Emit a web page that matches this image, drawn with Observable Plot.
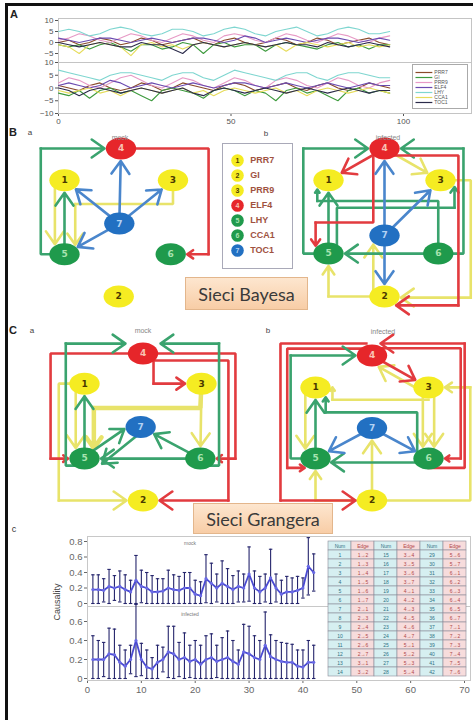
<!DOCTYPE html>
<html>
<head>
<meta charset="utf-8">
<script src="https://cdn.jsdelivr.net/npm/d3@7"></script>
<script src="https://cdn.jsdelivr.net/npm/@observablehq/plot@0.6"></script>
<style>
  body { margin: 0; background: #fff; }
  #fig { position: relative; width: 473px; height: 720px; overflow: hidden; background: #fff;
         font-family: "Liberation Sans", Arial, sans-serif; }
  #fig svg { position: absolute; left: 0; top: 0; background: transparent; }
  .tag { position: absolute; transform: translate(-50%, -50%); white-space: nowrap; line-height: 1; }
  .boxlabel { position: absolute; display: flex; align-items: center; justify-content: center;
              background: linear-gradient(#fde6cf, #f8cda6); border: 1px solid #e3b68c;
              font-family: Lato, "Open Sans", sans-serif; font-size: 18px; color: #3a3a3a; box-sizing: border-box; }
</style>
</head>
<body>
<div id="fig"></div>
<script>
// ---------- genes ----------
const geneNames = ["PRR7", "GI", "PRR9", "ELF4", "LHY", "CCA1", "TOC1"];
const geneKinds = ["y", "y", "y", "r", "g", "g", "b"];
const geneColors = ["#8a4a2a", "#3d9a3d", "#e79ac6", "#6b4bb0", "#7fd6d0", "#e6dc5a", "#2b2b4a"];

// ---------- panel A: expression time series ----------
const T = [0,3,6,9,12,15,18,21,24,27,30,33,36,39,42,45,48,51,54,57,60,63,66,69,72,75,78,81,84,87,90,93,96];
const mockPRR7 = [0,1,-1,0,2,1,-1,0,2,1,-1,0,1,2,0,-1,1,2,0,-1,0,2,1,-1,0,2,1,-1,0,1,2,0,-1];
const mockGI   = [-1,-2,-1,-3,-1,0,-2,-4,-1,-1,-3,-2,0,-1,-5,-1,0,-2,-1,-1,-4,-1,0,-1,-2,-3,-1,0,-2,-1,-3,-1,-1];
const mockPRR9 = [1,2,4,3,1,0,2,4,3,1,0,2,4,3,1,0,3,4,3,1,0,2,4,3,1,0,2,4,3,1,0,2,3];
const mockELF4 = [2,1,0,1,2,2,1,0,1,2,1,0,1,2,2,1,0,1,3,2,0,1,2,1,0,1,2,2,1,0,1,2,1];
const mockLHY  = [5,6,5,3,4,6,7,6,4,3,4,6,6,5,3,4,6,7,6,4,3,5,6,7,5,3,4,6,7,6,4,4,5];
const mockCCA1 = [-1,-2,-5,-1,0,-1,-2,-6,-1,0,-2,-1,-3,-1,0,-1,-2,-1,0,-1,-2,-1,-4,-1,0,-1,-2,-1,0,-2,-1,-2,-1];
const mockTOC1 = [0,-1,-2,-1,0,-1,-2,-2,0,-1,-1,-3,-5,-1,0,-1,-2,-1,0,-1,-2,-1,0,-1,-1,-2,0,-1,-2,-1,0,-1,-2];

const infPRR7 = [1,0,-1,1,2,0,-1,0,2,1,-1,0,2,1,0,-1,1,2,1,-1,0,1,2,0,-1,1,2,0,-1,0,2,1,0];
const infGI   = [-2,-3,-1,-4,-1,0,-2,-1,-3,-5,-1,0,-1,-2,-4,-1,0,-1,-3,-1,-2,-5,-1,0,-2,-1,-3,-5,-1,0,-2,-1,-2];
const infPRR9 = [2,4,3,1,0,2,4,5,3,1,0,2,4,3,1,0,2,4,3,1,0,3,4,3,1,0,2,4,3,1,0,2,3];
const infELF4 = [1,2,1,0,1,3,2,0,1,2,1,0,1,2,1,0,1,2,2,1,0,1,2,1,0,1,2,1,0,1,2,1,1];
const infLHY  = [7,6,5,4,3,5,6,6,5,4,3,5,6,6,4,3,5,7,6,5,4,3,5,6,6,4,3,5,6,6,5,4,4];
const infCCA1 = [-1,-2,-1,0,-2,-1,-3,-1,0,-1,-2,-1,0,-2,-1,-3,-1,0,-1,-2,-1,0,-2,-1,-3,-1,0,-1,-2,-1,0,-1,-2];
const infTOC1 = [0,-1,-3,-1,0,-1,-2,-1,0,-1,-2,-1,0,-2,-3,-1,0,-1,-2,-1,0,-1,-2,-1,0,-1,-2,-1,0,-1,-2,-1,-1];

const ticksA = [0, 50, 100];

// ---------- panel c: causality per edge ----------
const mockMean = [0.18,0.18,0.17,0.22,0.2,0.22,0.18,0.15,0.3,0.22,0.2,0.15,0.15,0.16,0.2,0.18,0.17,0.2,0.2,0.12,0.1,0.32,0.26,0.2,0.26,0.22,0.18,0.22,0.2,0.38,0.2,0.15,0.2,0.33,0.2,0.12,0.15,0.15,0.17,0.2,0.48,0.4];
const mockErr  = [0.19,0.19,0.15,0.22,0.16,0.2,0.19,0.15,0.32,0.21,0.2,0.21,0.17,0.16,0.23,0.19,0.18,0.2,0.2,0.18,0.18,0.31,0.26,0.18,0.29,0.23,0.18,0.2,0.18,0.35,0.22,0.2,0.18,0.37,0.18,0.18,0.2,0.18,0.18,0.13,0.37,0.24];
const infMean  = [0.2,0.2,0.2,0.26,0.25,0.17,0.13,0.2,0.4,0.2,0.12,0.1,0.17,0.2,0.28,0.26,0.2,0.22,0.18,0.2,0.15,0.2,0.22,0.18,0.2,0.22,0.18,0.15,0.28,0.26,0.22,0.2,0.35,0.23,0.2,0.18,0.17,0.17,0.13,0.12,0.17,0.17];
const infErr   = [0.25,0.2,0.18,0.27,0.27,0.18,0.17,0.15,0.38,0.17,0.18,0.12,0.18,0.13,0.27,0.29,0.18,0.26,0.17,0.2,0.2,0.25,0.25,0.17,0.23,0.28,0.22,0.15,0.29,0.29,0.23,0.2,0.35,0.23,0.2,0.2,0.2,0.19,0.17,0.18,0.23,0.18];
const ticksCx = [0, 10, 20, 30, 40, 50, 60, 70];

// edge numbering table
const tableHeads = ["Num", "Edge", "Num", "Edge", "Num", "Edge"];
const edgeList = ["1→2","1→3","1→4","1→5","1→6","1→7","2→1","2→3","2→4","2→5","2→6","2→7","3→1","3→2",
                  "3→4","3→5","3→6","3→7","4→1","4→2","4→3","4→5","4→6","4→7","5→1","5→2","5→3","5→4",
                  "5→6","5→7","6→1","6→2","6→3","6→4","6→5","6→7","7→1","7→2","7→3","7→4","7→5","7→6"];

// ---------- networks (node positions in grid units: column, row) ----------
const bMockNodes = [[0,0.86],[0.96,4],[1.92,0.86],[1,0],[0,2.86],[1.88,2.86],[0.97,2.03]];
const bMockEdges = [
  {c:"y", to:5, pts:[[-0.17,0.86],[-0.17,2.86]]},
  {c:"y", to:5, pts:[3,[1.92,1.5],[0.19,1.5],[0.19,2.86]]},
  {c:"g", to:4, pts:[5,[-0.42,2.86],[-0.42,0],4]},
  {c:"r", to:6, pts:[4,[2.55,0],[2.55,2.86],6]},
  {c:"g", to:1, pts:[5,1]},
  {c:"b", to:4, pts:[7,4]},
  {c:"b", to:1, pts:[7,1]},
  {c:"b", to:3, pts:[7,3]},
  {c:"b", to:5, pts:[7,5]}
];
const bInfNodes = [[0,0.86],[1,4],[2,0.86],[1,0],[0,2.84],[1.96,2.84],[1,2.35]];
const bInfEdges = [
  {c:"y", to:3, pts:[4,3]},
  {c:"y", to:2, pts:[3,[2.54,0.86],[2.54,4.03],[1,4.03]]},
  {c:"y", to:5, pts:[2,[0,4],5]},
  {c:"y", to:7, pts:[[0.8,4],[0.8,2.35]]},
  {c:"g", to:4, pts:[5,[-0.45,2.84],[-0.45,0],4]},
  {c:"g", to:4, pts:[6,[2.41,2.84],[2.41,0],4]},
  {c:"g", to:1, pts:[[1.96,2.84],[1.96,1.42],[-0.2,1.42],[-0.2,0.86]]},
  {c:"g", to:3, pts:[[0.15,2.84],[0.15,1.6],[2.25,1.6],[2.25,0.86]]},
  {c:"g", to:1, pts:[5,1]},
  {c:"g", to:5, pts:[6,5]},
  {c:"r", to:1, pts:[4,1]},
  {c:"r", to:5, pts:[[0.8,0],[0.8,2.0],[-0.23,2.0],[-0.23,2.84]]},
  {c:"r", to:2, pts:[[1,0.19],[2.32,0.19],[2.32,4.24],[1,4.24]]},
  {c:"b", to:4, pts:[7,4]},
  {c:"b", to:3, pts:[7,3]},
  {c:"b", to:2, pts:[7,2]}
];
const cMockNodes = [[0,0.82],[1,4],[2,0.82],[1,0],[0,2.86],[1.98,2.86],[0.96,2.0]];
const cMockEdges = [
  {c:"y", to:2, pts:[1,[-0.44,0.82],[-0.44,4],2]},
  {c:"y", to:5, pts:[[-0.15,0.82],[-0.15,2.86]]},
  {c:"y", to:5, pts:[3,[1.98,1.48],[0.16,1.48],[0.16,2.86]], w:4.5},
  {c:"y", to:6, pts:[3,6]},
  {c:"r", to:5, pts:[4,[-0.58,0],[-0.58,2.86],5]},
  {c:"r", to:6, pts:[4,[2.58,0],[2.58,2.86],6]},
  {c:"r", to:2, pts:[[1,0.19],[2.46,0.19],[2.46,4],2]},
  {c:"r", to:3, pts:[[1.18,0],[1.18,0.82],3]},
  {c:"g", to:4, pts:[[0,3.05],[-0.32,3.05],[-0.32,-0.27],[0.7,-0.27]]},
  {c:"g", to:4, pts:[[1.98,3.05],[2.3,3.05],[2.3,-0.27],[1.3,-0.27]]},
  {c:"g", to:1, pts:[5,1]},
  {c:"g", to:7, pts:[[0.05,2.75],[0.78,1.95]]},
  {c:"g", to:5, pts:[[1.0,2.1],[0.3,3.0]]},
  {c:"g", to:7, pts:[6,7]},
  {c:"g", to:5, pts:[6,5]}
];
const cInfNodes = [[0,0.88],[1,4],[2,0.88],[1,0],[0,2.84],[2,2.84],[1,2.0]];
const cInfEdges = [
  {c:"y", to:4, pts:[[1.9,1.0],[0.9,0.12]]},
  {c:"y", to:1, pts:[[2,1.22],[0.3,1.22],[0.3,0.88]]},
  {c:"y", to:6, pts:[[1.9,0.88],[1.9,2.84]]},
  {c:"y", to:6, pts:[[2.1,0.88],[2.1,2.84]]},
  {c:"y", to:5, pts:[[-0.18,0.88],[-0.18,2.84]]},
  {c:"y", to:7, pts:[2,7]},
  {c:"y", to:5, pts:[2,[0,4],5]},
  {c:"y", to:3, pts:[2,[2.74,4],[2.74,0.88],3]},
  {c:"r", to:2, pts:[[0.9,-0.33],[-0.62,-0.33],[-0.62,4],2]},
  {c:"r", to:5, pts:[[1,-0.19],[-0.5,-0.19],[-0.5,3.1],[0,3.1]]},
  {c:"r", to:6, pts:[[1,-0.2],[2.57,-0.2],[2.57,2.84],6]},
  {c:"r", to:4, pts:[[2,3.1],[2.64,3.1],[2.64,-0.33],[1.15,-0.33]]},
  {c:"r", to:3, pts:[4,3]},
  {c:"g", to:4, pts:[5,[-0.44,2.84],[-0.44,0],4]},
  {c:"g", to:5, pts:[[2,2.95],[0,2.95]]},
  {c:"g", to:1, pts:[5,1]},
  {c:"g", to:1, pts:[[1.8,2.84],[1.8,1.57],[0.18,1.57],[0.18,0.88]]},
  {c:"b", to:5, pts:[7,5]},
  {c:"b", to:6, pts:[7,6]}
];

// ---------- styling ----------
const edgeColor = {g: "#3aa36e", r: "#e23b3f", y: "#e8e36a", b: "#4a86cc"};
const nodeFill  = {y: "#f5ec22", r: "#e6262a", g: "#1f9a4c", b: "#2270c2"};
const nodeInk   = {y: "#4a3a00", r: "#f9c3b3", g: "#a8e4b0", b: "#b3d2f4"};
const FONT = "'Liberation Sans', Arial, sans-serif";

// oval node glyph for Plot.dot
const oval = {
  draw(ctx, size) {
    const r = Math.sqrt(size / Math.PI), rx = r * 1.38, ry = r, k = 0.5523;
    ctx.moveTo(rx, 0);
    ctx.bezierCurveTo(rx, ry * k, rx * k, ry, 0, ry);
    ctx.bezierCurveTo(-rx * k, ry, -rx, ry * k, -rx, 0);
    ctx.bezierCurveTo(-rx, -ry * k, -rx * k, -ry, 0, -ry);
    ctx.bezierCurveTo(rx * k, -ry, rx, -ry * k, rx, 0);
    ctx.closePath();
  }
};

const stage = document.getElementById("fig");
const put = (el) => stage.appendChild(el);
function tag(text, x, y, css) {
  const d = document.createElement("div");
  d.className = "tag";
  d.textContent = text;
  d.style.cssText = `left:${x}px;top:${y}px;` + (css || "");
  stage.appendChild(d);
}
// every layer spans the whole figure; margins place its frame
const layer = (o) => Plot.plot({
  width: 473, height: 720,
  style: `background:transparent;font-family:${FONT};font-size:8px;color:#555;`,
  color: {type: "identity"},
  ...o
});

// ---------- panel A ----------
function seriesRows(list) {
  const rows = [];
  list.forEach((vals, k) => vals.forEach((v, i) => rows.push({t: T[i], v, gene: geneNames[k], c: geneColors[k]})));
  return rows;
}
const mockRows = seriesRows([mockPRR7, mockGI, mockPRR9, mockELF4, mockLHY, mockCCA1, mockTOC1]);
const infRows  = seriesRows([infPRR7, infGI, infPRR9, infELF4, infLHY, infCCA1, infTOC1]);
const xA = {type: "linear", domain: [0, 100], range: [58, 403], label: null};

put(layer({
  marginLeft: 58, marginRight: 2, marginTop: 18, marginBottom: 658,
  x: {...xA, axis: null},
  y: {domain: [-10, 10], range: [64, 20], ticks: [-5, 0, 5, 10], tickSize: 3, tickPadding: 2, label: null},
  marks: [
    Plot.frame({stroke: "#c4c4c4"}),
    Plot.line(mockRows, {x: "t", y: "v", z: "gene", stroke: "c", strokeWidth: 1.1})
  ]
}));
put(layer({
  marginLeft: 58, marginRight: 2, marginTop: 62, marginBottom: 607,
  x: {...xA, ticks: ticksA, tickSize: 3, tickPadding: 2},
  y: {domain: [-10, 10], range: [113, 62], ticks: [-10, -5, 0, 5, 10], tickSize: 3, tickPadding: 2, label: null},
  marks: [
    Plot.frame({stroke: "#c4c4c4"}),
    Plot.line(infRows, {x: "t", y: "v", z: "gene", stroke: "c", strokeWidth: 1.1})
  ]
}));
// legend of panel A
put(layer({
  marginLeft: 412, marginRight: 6, marginTop: 64, marginBottom: 612,
  x: {domain: [0, 1], range: [415, 466], axis: null},
  y: {type: "point", domain: geneNames, range: [67, 106], axis: null},
  marks: [
    Plot.frame({stroke: "#aaa", fill: "white"}),
    Plot.link(geneNames, {x1: 0, x2: 0.33, y1: d => d, y2: d => d, stroke: (d, i) => geneColors[i], strokeWidth: 1.2}),
    Plot.text(geneNames, {x: 0.37, y: d => d, text: d => d, textAnchor: "start", fontSize: 5, fill: "#555"})
  ]
}));

// ---------- networks ----------
function clipTip(a, q, c, sx, sy) {
  const RX = 16.5, RY = 12.5;
  const px = (a[0] - c[0]) * sx, py = (a[1] - c[1]) * sy;
  const dx = (q[0] - a[0]) * sx, dy = (q[1] - a[1]) * sy;
  const A = dx * dx / (RX * RX) + dy * dy / (RY * RY);
  const B = 2 * (px * dx / (RX * RX) + py * dy / (RY * RY));
  const C = px * px / (RX * RX) + py * py / (RY * RY) - 1;
  const disc = B * B - 4 * A * C;
  if (A === 0 || disc < 0) return q;
  const t = (-B - Math.sqrt(disc)) / (2 * A);
  if (t < 0 || t > 1) return q;
  return [a[0] + t * (q[0] - a[0]), a[1] + t * (q[1] - a[1])];
}
function network(nodes, edges, xr, yr) {
  const sx = (xr[1] - xr[0]) / 2, sy = (yr[1] - yr[0]) / 4;
  const at = (p) => typeof p === "number" ? nodes[p - 1] : p;
  const paths = [], arrows = [];
  edges.forEach((e, i) => {
    const pts = e.pts.map(at), n = pts.length;
    const a = pts[n - 2], tip = clipTip(a, pts[n - 1], nodes[e.to - 1], sx, sy);
    pts.slice(0, n - 1).forEach(p => paths.push({id: i, col: edgeColor[e.c], x: p[0], y: p[1]}));
    arrows.push({col: edgeColor[e.c], x1: a[0], y1: a[1], x2: tip[0], y2: tip[1]});
  });
  const nodeRows = nodes.map((p, i) => ({id: String(i + 1), kind: geneKinds[i], x: p[0], y: p[1]}));
  const marks = [];
  edges.forEach((e, i) => {
    marks.push(Plot.line(paths.filter(d => d.id === i), {x: "x", y: "y", stroke: "col",
      strokeWidth: e.w || 2.6, strokeLinecap: "square", strokeLinejoin: "miter"}));
    marks.push(Plot.arrow([arrows[i]], {x1: "x1", y1: "y1", x2: "x2", y2: "y2", stroke: "col",
      strokeWidth: e.w || 2.6, headLength: 9, headAngle: 70}));
  });
  return layer({
    margin: 0,
    x: {domain: [0, 2], range: xr, axis: null},
    y: {domain: [0, 4], range: yr, axis: null},
    marks: [
      ...marks,
      Plot.dot(nodeRows, {x: "x", y: "y", r: 11, symbol: oval, fill: d => nodeFill[d.kind], stroke: "none"}),
      Plot.text(nodeRows, {x: "x", y: "y", text: "id", fill: d => nodeInk[d.kind], fontSize: 9, fontWeight: "bold",
        fontFamily: "'DejaVu Sans', sans-serif"})
    ]
  });
}
put(network(bMockNodes, bMockEdges, [64, 177], [148, 296]));
put(network(bInfNodes, bInfEdges, [328, 440], [148, 296]));
put(network(cMockNodes, cMockEdges, [84, 201], [353, 500]));
put(network(cInfNodes, cInfEdges, [315, 428], [355, 500]));

// gene key of panel B
put(layer({
  marginLeft: 222, marginRight: 181, marginTop: 143, marginBottom: 452,
  x: {domain: [0, 1], range: [237, 290], axis: null},
  y: {type: "point", domain: geneNames, range: [152, 258], axis: null},
  marks: [
    Plot.frame({stroke: "#a9a9b8", fill: "white"}),
    Plot.dot(geneNames, {x: 0, y: d => d, r: 6.3, fill: (d, i) => nodeFill[geneKinds[i]]}),
    Plot.text(geneNames, {x: 0, y: d => d, text: (d, i) => String(i + 1), fill: (d, i) => nodeInk[geneKinds[i]],
      fontSize: 7, fontWeight: "bold"}),
    Plot.text(geneNames, {x: 0.24, y: d => d, text: d => d, textAnchor: "start", fill: "#a0523f",
      fontSize: 9, fontWeight: "bold"})
  ]
}));

// ---------- panel c ----------
const mockCaus = mockMean.map((m, i) => ({x: i + 1, m, e: mockErr[i]}));
const infCaus  = infMean.map((m, i) => ({x: i + 1, m, e: infErr[i]}));
function causalityMarks(rows) {
  const lo = d => Math.max(0, d.m - d.e), hi = d => d.m + d.e;
  return [
    Plot.ruleX(rows, {x: "x", y1: lo, y2: hi, stroke: "#25256c", strokeWidth: 1.1}),
    Plot.link(rows, {x1: d => d.x - 0.32, x2: d => d.x + 0.32, y1: hi, y2: hi, stroke: "#25256c", strokeWidth: 1.1}),
    Plot.link(rows, {x1: d => d.x - 0.32, x2: d => d.x + 0.32, y1: lo, y2: lo, stroke: "#25256c", strokeWidth: 1.1}),
    Plot.line(rows, {x: "x", y: "m", stroke: "#4a4ad2", strokeWidth: 1.8}),
    Plot.dot(rows, {x: "x", y: "m", r: 1.6, fill: "#6a6ae6"})
  ];
}
const cStyle = `background:transparent;font-family:${FONT};font-size:9.5px;color:#666;`;
const fmtC = d => d === 0 ? "0" : String(d);
const xC = {domain: [0, 70], range: [87, 464]};
put(layer({
  style: cStyle,
  marginLeft: 87, marginRight: 3, marginTop: 536, marginBottom: 114,
  x: {...xC, axis: null},
  y: {domain: [0, 0.8], range: [603, 541], ticks: [0, 0.2, 0.4, 0.6, 0.8], tickFormat: fmtC, tickSize: 3, tickPadding: 2, label: null},
  marks: [Plot.frame({stroke: "#c8c8c8"}), ...causalityMarks(mockCaus)]
}));
put(layer({
  style: cStyle,
  marginLeft: 87, marginRight: 3, marginTop: 606, marginBottom: 40,
  x: {...xC, ticks: ticksCx, tickSize: 3, tickPadding: 3, label: null},
  y: {domain: [0, 0.6], range: [678, 621], ticks: [0, 0.2, 0.4, 0.6], tickFormat: fmtC, tickSize: 3, tickPadding: 2, label: null},
  marks: [Plot.frame({stroke: "#c8c8c8"}), ...causalityMarks(infCaus)]
}));

// edge numbering table
const cells = [];
for (let r = 0; r < 15; r++) {
  for (let c = 0; c < 6; c++) {
    const k = Math.floor(c / 2) * 14 + r;
    const t = r === 0 ? tableHeads[c] : (c % 2 === 0 ? String(k) : edgeList[k - 1]);
    cells.push({r, c, t});
  }
}
put(layer({
  margin: 0,
  x: {type: "band", domain: [0, 1, 2, 3, 4, 5], range: [325, 468], padding: 0, axis: null},
  y: {type: "band", domain: d3.range(15), range: [537, 679], padding: 0, axis: null},
  marks: [
    Plot.cell(cells, {x: "c", y: "r", inset: 0, fill: d => d.c % 2 ? "#f7dcdc" : "#d6eff1", stroke: "#8a8a98", strokeWidth: 0.6}),
    Plot.text(cells, {x: "c", y: "r", text: "t", fontSize: 5, fill: d => d.c % 2 ? "#b04848" : "#2f7284"})
  ]
}));

// ---------- captions, panel letters and frame ----------
const bar1 = document.createElement("div");
bar1.style.cssText = "position:absolute;left:5px;top:3px;width:3px;height:717px;background:#111;";
const bar2 = document.createElement("div");
bar2.style.cssText = "position:absolute;left:5px;top:3px;width:468px;height:3px;background:#111;";
put(bar1); put(bar2);

const bay = document.createElement("div");
bay.className = "boxlabel"; bay.textContent = "Sieci Bayesa";
bay.style.cssText = "left:185px;top:277px;width:123px;height:33px;";
put(bay);
const gra = document.createElement("div");
gra.className = "boxlabel"; gra.textContent = "Sieci Grangera";
gra.style.cssText = "left:193px;top:503px;width:140px;height:31px;";
put(gra);

const letter = "font-weight:bold;font-size:11px;color:#222;";
const small = "font-size:8px;color:#444;";
const grey = "font-size:7px;color:#888;";
tag("A", 14, 14, letter);
tag("B", 13, 132, letter); tag("a", 30, 133, small);
tag("mock", 120, 137, grey); tag("b", 266, 134, small); tag("infected", 388, 137, grey);
tag("C", 13, 330, letter); tag("a", 32, 331, small);
tag("mock", 143, 330, grey); tag("b", 268, 331, small); tag("infected", 383, 331, grey);
tag("c", 14, 529, "font-size:9px;color:#333;");
tag("Causality", 57, 602, "font-size:9px;color:#444;transform:translate(-50%,-50%) rotate(-90deg);");
tag("mock", 190, 543, "font-size:5px;color:#777;");
tag("infected", 190, 614, "font-size:5px;color:#777;");
</script>
</body>
</html>
